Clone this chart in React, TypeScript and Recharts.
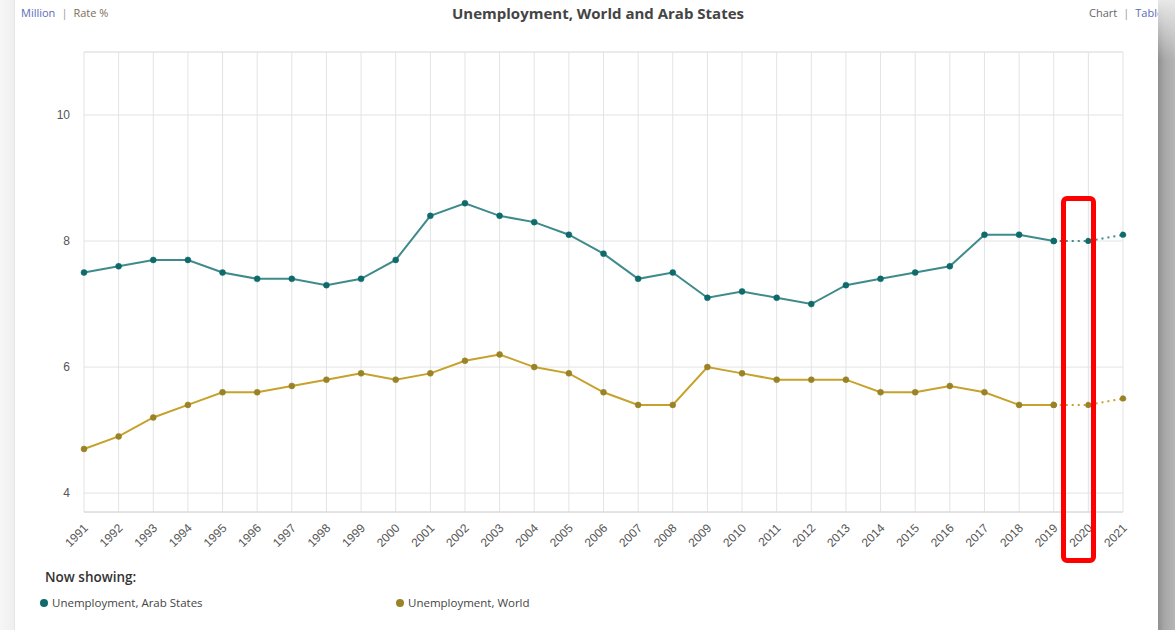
import React from "react";
import { LineChart, Line, XAxis, YAxis, CartesianGrid, ReferenceLine } from "recharts";

const years = ["1991","1992","1993","1994","1995","1996","1997","1998","1999","2000","2001","2002","2003","2004","2005","2006","2007","2008","2009","2010","2011","2012","2013","2014","2015","2016","2017","2018","2019","2020","2021"];
const arabStates = [7.5,7.6,7.7,7.7,7.5,7.4,7.4,7.3,7.4,7.7,8.4,8.6,8.4,8.3,8.1,7.8,7.4,7.5,7.1,7.2,7.1,7.0,7.3,7.4,7.5,7.6,8.1,8.1,8.0,8.0,8.1];
const world = [4.7,4.9,5.2,5.4,5.6,5.6,5.7,5.8,5.9,5.8,5.9,6.1,6.2,6.0,5.9,5.6,5.4,5.4,6.0,5.9,5.8,5.8,5.8,5.6,5.6,5.7,5.6,5.4,5.4,5.4,5.5];
const lastActualYear = "2019";
const yTicks = [4, 6, 8, 10];

const lastIdx = years.indexOf(lastActualYear);
const data = years.map((y, i) => ({
  year: y,
  arab: i <= lastIdx ? arabStates[i] : null,
  arabProj: i >= lastIdx ? arabStates[i] : null,
  world: i <= lastIdx ? world[i] : null,
  worldProj: i >= lastIdx ? world[i] : null,
}));

const ARAB_LINE = "#3f8a8a";
const ARAB_DOT = "#0f6b6b";
const WORLD_LINE = "#c6a22c";
const WORLD_DOT = "#9a8226";
const GRID = "#e3e3e3";

const XTick = (props: any) => {
  const { x, y, payload } = props;
  return (
    <g transform={`translate(${x + 2},${y + 6})`}>
      <text x={0} y={0} dy={4} textAnchor="end" transform="rotate(-45)" fill="#555" fontSize={12} fontFamily="'Liberation Sans', Arial, sans-serif">
        {payload.value}
      </text>
    </g>
  );
};

export default function App() {
  return (
    <div style={{ position: "fixed", left: 0, top: 0, width: 1175, height: 630, background: "#fff", overflow: "hidden", fontFamily: "'Open Sans', sans-serif" }}>
      {/* page frame */}
      <div style={{ position: "absolute", left: 0, top: 0, width: 14, height: 630, background: "linear-gradient(to right,#f6f6f6,#efefef)", borderRight: "1px solid #e6e6e6" }} />
      <div style={{ position: "absolute", left: 1158, top: 0, width: 17, height: 630, background: "linear-gradient(to right,#8f8f8f,#a8a8a8 40%,#b5b5b5)" }} />
      <div style={{ position: "absolute", left: 1158, top: 0, width: 17, height: 60, background: "linear-gradient(to bottom,#e8e8e8,rgba(170,170,170,0))" }} />

      {/* header */}
      <div style={{ position: "absolute", left: 21, top: 5, fontSize: 11, color: "#777" }}>
        <span style={{ color: "#5b6cb8" }}>Million</span>
        <span style={{ color: "#999", margin: "0 6px" }}>|</span>
        <span style={{ color: "#7d6e5a" }}>Rate %</span>
      </div>
      <div style={{ position: "absolute", left: 0, width: 1196, top: 3, textAlign: "center", fontSize: 15, fontWeight: 700, color: "#444" }}>
        Unemployment, World and Arab States
      </div>
      <div style={{ position: "absolute", left: 1089, top: 5, fontSize: 11, whiteSpace: "nowrap", width: 69, overflow: "hidden" }}>
        <span style={{ color: "#666" }}>Chart</span>
        <span style={{ color: "#999", margin: "0 6px" }}>|</span>
        <span style={{ color: "#5b6cb8" }}>Table</span>
      </div>

      <div style={{ position: "absolute", left: 0, top: 0 }}>
        <LineChart width={1175} height={570} data={data} margin={{ top: 52, right: 52, bottom: 0, left: 0 }}>
          <CartesianGrid stroke={GRID} vertical={true} horizontal={true} />
          <ReferenceLine y={11} stroke={GRID} ifOverflow="extendDomain" />
          <XAxis dataKey="year" interval={0} tickLine={false} axisLine={{ stroke: "#d6d6d6" }} height={58} tick={<XTick />} padding={{ left: 0, right: 0 }} />
          <YAxis domain={[3.7, 11]} ticks={yTicks} width={84} tickLine={false} axisLine={false} tickMargin={8} tick={{ fill: "#555", fontSize: 12, fontFamily: "'Liberation Sans', Arial, sans-serif" }} allowDataOverflow />
          <Line dataKey="arab" stroke={ARAB_LINE} strokeWidth={2} dot={{ r: 3, fill: ARAB_DOT, stroke: ARAB_DOT, strokeWidth: 0.5 }} activeDot={false} isAnimationActive={false} connectNulls={false} />
          <Line dataKey="arabProj" stroke={ARAB_LINE} strokeWidth={2} strokeDasharray="2 4" dot={{ r: 3, fill: ARAB_DOT, stroke: ARAB_DOT, strokeWidth: 0.5 }} activeDot={false} isAnimationActive={false} />
          <Line dataKey="world" stroke={WORLD_LINE} strokeWidth={2} dot={{ r: 3, fill: WORLD_DOT, stroke: WORLD_DOT, strokeWidth: 0.5 }} activeDot={false} isAnimationActive={false} />
          <Line dataKey="worldProj" stroke={WORLD_LINE} strokeWidth={2} strokeDasharray="2 4" dot={{ r: 3, fill: WORLD_DOT, stroke: WORLD_DOT, strokeWidth: 0.5 }} activeDot={false} isAnimationActive={false} />
        </LineChart>
      </div>

      {/* highlight box */}
      <div style={{ position: "absolute", left: 1061, top: 196, width: 35, height: 367, border: "5px solid #ff0000", borderRadius: 6, boxSizing: "border-box" }} />

      {/* legend */}
      <div style={{ position: "absolute", left: 45, top: 568, fontSize: 13.5, fontWeight: 600, color: "#333" }}>Now showing:</div>
      <div style={{ position: "absolute", left: 40, top: 595, fontSize: 11.5, color: "#444", display: "flex", alignItems: "center" }}>
        <span style={{ width: 8, height: 8, borderRadius: 4, background: ARAB_DOT, marginRight: 4, display: "inline-block" }} />
        Unemployment, Arab States
      </div>
      <div style={{ position: "absolute", left: 396, top: 595, fontSize: 11.5, color: "#444", display: "flex", alignItems: "center" }}>
        <span style={{ width: 8, height: 8, borderRadius: 4, background: WORLD_DOT, marginRight: 4, display: "inline-block" }} />
        Unemployment, World
      </div>
    </div>
  );
}
